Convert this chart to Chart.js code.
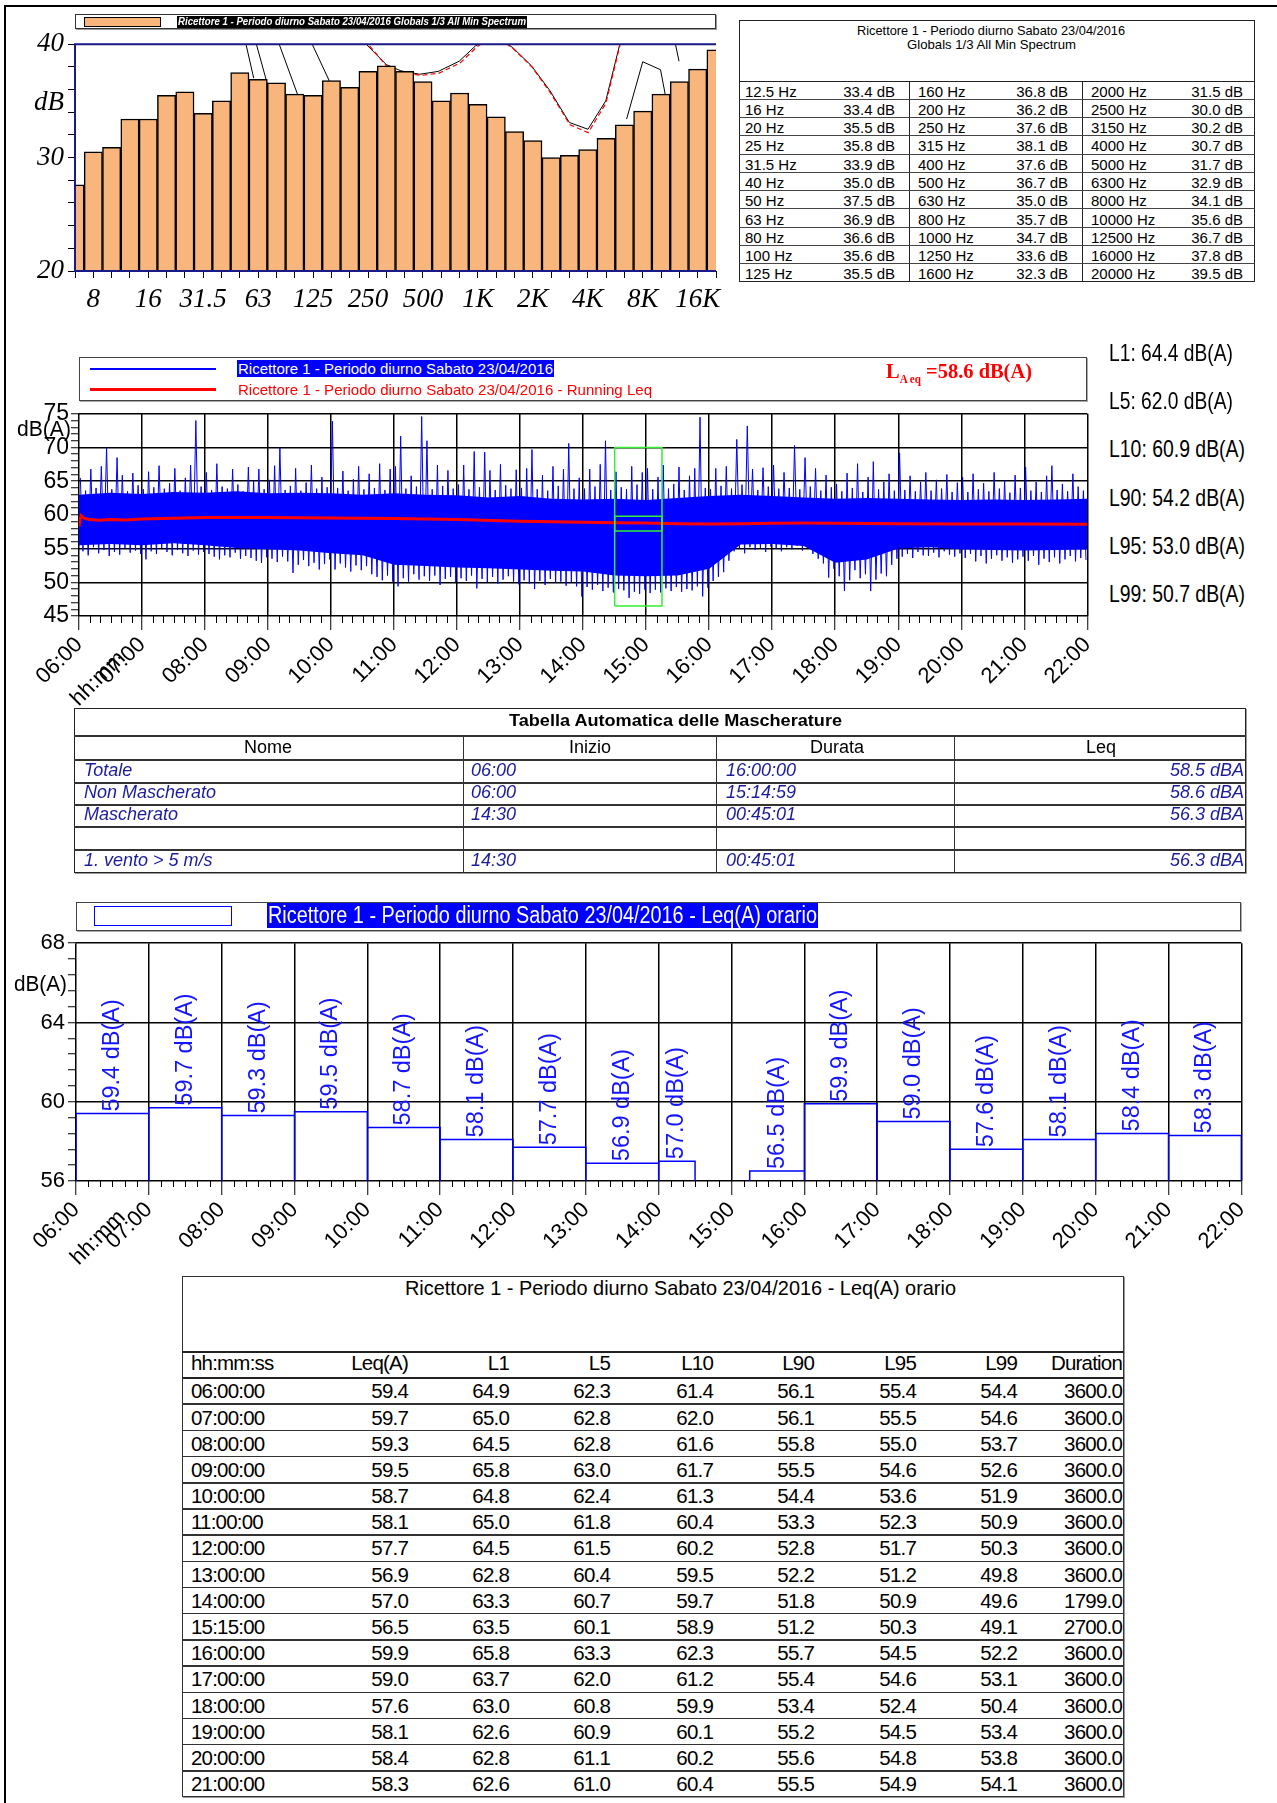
<!DOCTYPE html>
<html><head><meta charset="utf-8">
<script src="https://cdn.jsdelivr.net/npm/chart.js@4.4.1/dist/chart.umd.min.js"></script>
<style>
html,body{margin:0;padding:0;background:#fff;}
#page{position:relative;width:1277px;height:1803px;overflow:hidden;background:#fff;font-family:"Liberation Sans",Arial,sans-serif;}
canvas{position:absolute;}
</style></head>
<body><div id="page">
<canvas id="cSpec" width="730" height="300" style="left:0;top:30px;width:730px;height:300px"></canvas>
<canvas id="cHist" width="1100" height="310" style="left:0;top:405px;width:1100px;height:310px"></canvas>
<canvas id="cHour" width="1260" height="340" style="left:0;top:930px;width:1260px;height:340px"></canvas>
</div>
<script>
// ================= DATA =================
// --- 1/3 octave minimum spectrum ---
const specTitle = 'Ricettore 1 - Periodo diurno Sabato 23/04/2016 Globals 1/3 All Min Spectrum';
const specTableTitle1 = 'Ricettore 1 - Periodo diurno Sabato 23/04/2016';
const specTableTitle2 = 'Globals 1/3 All Min Spectrum';
const specBands = ['6.3','8','10','12.5','16','20','25','31.5','40','50','63','80','100','125','160','200','250','315','400','500','630','800','1000','1250','1600','2000','2500','3150','4000','5000','6300','8000','10000','12500','16000','20000'];
const specLevels = [27.6,30.5,30.9,33.4,33.4,35.5,35.8,33.9,35.0,37.5,36.9,36.6,35.6,35.5,36.8,36.2,37.6,38.1,37.6,36.7,35.0,35.7,34.7,33.6,32.3,31.5,30.0,30.2,30.7,31.7,32.9,34.1,35.6,36.7,37.8,39.5];
const specAxisBands = ['8','16','31.5','63','125','250','500','1000','2000','4000','8000','16000'];
const specAxisLabels = ['8','16','31.5','63','125','250','500','1K','2K','4K','8K','16K'];
const specYLabels = [20,30,40];
// other spectra traces visible (clipped) behind the bars
const traceBlackHz = [53.8,59.7,null,61.0,71.9,null,80.5,108.4,null,122,160.3,null,232,316,380,481,607,790,970,1089,1300,1549,1959,2473,3155,3990,4989,6124,null,6486,7943,9931,10794,null,11912,12534];
const traceBlackDb = [40.2,37.0,null,40.3,36.1,null,40.4,34.7,null,40.3,36.2,null,40.4,38.2,37.65,37.35,37.6,38.5,39.85,40.3,40.5,39.7,38.1,35.9,33.1,32.5,35.0,40.8,null,33.4,38.45,37.75,34.7,null,40.2,38.5];
const traceRedHz = [240,320,385,490,615,800,985,1100,1300,1560,1970,2490,3180,4000,5000,6150];
const traceRedDb = [40.4,38.0,37.5,37.25,37.45,38.35,39.75,40.3,40.5,39.6,38.0,35.7,32.9,32.2,34.8,40.8];

// --- time history ---
const histTitle = 'Ricettore 1 - Periodo diurno Sabato 23/04/2016';
const runTitle = 'Ricettore 1 - Periodo diurno Sabato 23/04/2016 - Running Leq';
const hourTickLabels = ['06:00','07:00','08:00','09:00','10:00','11:00','12:00','13:00','14:00','15:00','16:00','17:00','18:00','19:00','20:00','21:00','22:00'];
const laeqTotal = 58.6;
const statLabels = ['L1','L5','L10','L90','L95','L99'];
const statValues = [64.4,62.0,60.9,54.2,53.0,50.7];
const histBinMin = 5;
const histPeakMax = [
65.5,63.6,66.8,64.0,67.2,70.0,63.8,68.5,65.9,63.5,66.2,64.4,
63.8,66.4,64.1,67.3,63.9,64.7,66.9,63.6,65.5,67.4,74.0,64.2,
66.3,63.7,67.6,64.2,63.9,66.8,64.5,63.5,67.1,65.0,66.8,63.8,
65.2,67.3,70.0,63.7,64.3,66.9,63.6,64.8,67.4,63.9,65.6,64.1,
73.9,64.0,66.5,63.6,65.3,67.2,63.8,66.1,64.0,67.6,63.7,66.8,
67.2,71.7,63.9,65.8,64.2,74.6,71.0,63.8,67.4,64.3,66.6,63.9,
64.5,67.4,63.8,69.4,64.1,69.3,66.6,63.7,67.5,64.4,63.9,66.7,
64.0,66.9,69.7,63.8,65.9,63.6,67.2,64.3,66.8,70.6,63.9,65.5,
63.9,66.8,64.2,67.5,71.0,63.7,66.4,64.1,63.8,67.2,64.5,66.3,
66.9,63.8,65.6,67.4,63.9,64.6,67.1,63.7,65.8,66.9,74.5,64.0,
63.8,66.9,64.3,67.2,63.9,71.2,64.5,73.2,66.8,63.7,67.0,64.2,
67.4,63.9,66.3,64.0,70.3,63.8,68.5,64.2,66.9,63.6,65.9,64.1,
64.6,63.5,66.2,64.0,67.6,63.4,65.6,67.9,63.8,64.9,66.1,63.6,
69.2,63.7,65.8,63.5,64.9,66.3,63.6,65.2,63.9,66.0,63.4,64.8,
65.6,63.4,66.1,63.8,64.7,63.5,66.3,63.9,65.1,63.3,65.9,64.0,
67.1,63.6,64.9,63.4,65.8,67.3,63.7,64.6,63.5,66.1,64.2,63.6];
const histPeakMin = [
54.6,54.0,55.2,54.3,54.8,53.9,54.5,54.1,55.0,54.4,54.7,54.2,
53.4,54.6,54.2,55.1,54.5,54.0,54.8,54.3,53.9,54.7,54.1,54.5,
54.2,53.8,53.4,54.0,53.7,54.4,53.5,53.9,53.6,53.2,52.9,53.7,
53.5,53.0,53.8,53.1,51.4,52.6,53.3,52.4,52.9,51.9,52.7,53.4,
51.9,52.8,52.2,51.6,52.5,51.8,52.4,51.2,50.8,50.3,51.0,50.1,
49.4,50.6,50.1,51.2,50.4,50.9,50.2,51.0,49.6,50.5,50.8,50.0,
50.6,50.2,51.0,49.1,50.5,50.0,50.8,49.8,50.4,50.9,50.1,49.7,
50.3,49.8,49.0,50.2,49.6,50.5,49.9,50.1,49.5,50.0,49.4,47.9,
49.3,48.9,49.6,48.7,49.2,48.5,49.0,48.8,47.7,48.6,48.3,48.9,
48.4,48.9,48.5,49.1,48.7,49.3,48.6,49.0,48.8,49.4,47.9,49.2,
50.2,50.8,51.5,53.2,54.6,55.0,54.3,55.2,54.8,55.1,54.5,55.3,
55.0,54.6,55.2,54.9,55.4,54.7,55.1,54.2,53.5,52.8,50.7,52.0,
50.9,48.7,50.3,51.8,50.6,51.2,48.7,50.4,51.3,50.9,52.6,53.5,
53.8,54.2,53.6,54.5,54.0,53.9,54.4,53.7,54.6,54.1,53.8,54.3,
53.6,54.2,53.1,53.9,52.8,53.5,54.0,53.2,53.7,52.9,53.4,53.8,
53.2,53.9,52.6,53.5,53.0,53.7,52.8,53.4,53.9,53.1,53.6,53.3];
const histBandStep = 30;
const histBandTop = [63.0,63.3,63.1,63.4,63.3,63.5,63.2,63.3,63.2,63.0,63.2,63.0,62.9,62.6,62.8,62.4,62.3,62.4,62.2,62.5,62.8,63.0,62.8,62.6,62.4,62.5,62.4,62.3,62.2,62.3,62.2,62.3,62.4];
const histBandBottom = [55.5,55.7,55.5,55.8,55.5,55.1,54.9,54.7,54.3,54.0,52.6,52.4,52.2,52.1,51.9,51.7,51.6,51.0,50.9,51.0,52.0,55.6,55.7,55.4,52.9,53.4,55.0,55.2,54.9,54.8,54.7,54.8,54.9];
const runClock = ['06:00','06:02','06:05','06:10','06:20','06:30','06:45','07:00','07:30','08:00','09:00','10:00','10:30','11:00','11:30','12:00','13:00','14:00','14:30','15:00','15:30','16:00','16:30','17:00','17:30','18:00','19:00','20:00','21:00','22:00'];
const runLeq = [58.3,59.9,59.5,59.3,59.2,59.3,59.25,59.4,59.5,59.6,59.6,59.55,59.5,59.45,59.4,59.3,59.05,58.9,58.85,58.8,58.7,58.65,58.7,58.75,58.8,58.75,58.7,58.65,58.65,58.6];
const maskOuterDb = [46.5,70.0];
const maskInnerDb = [57.6,59.8];

// --- masking table ---
const maskTableTitle = 'Tabella Automatica delle Mascherature';
const maskHeaders = ['Nome','Inizio','Durata','Leq'];
const maskNames = ['Totale','Non Mascherato','Mascherato','','1. vento > 5 m/s'];
const maskStart = ['06:00','06:00','14:30','','14:30'];
const maskDur = ['16:00:00','15:14:59','00:45:01','','00:45:01'];
const maskLeq = ['58.5 dBA','58.6 dBA','56.3 dBA','','56.3 dBA'];

// --- hourly Leq ---
const hourTitle = 'Ricettore 1 - Periodo diurno Sabato 23/04/2016 - Leq(A) orario';
const hourStart = ['06:00:00','07:00:00','08:00:00','09:00:00','10:00:00','11:00:00','12:00:00','13:00:00','14:00:00','15:15:00','16:00:00','17:00:00','18:00:00','19:00:00','20:00:00','21:00:00'];
const hourLeq = [59.4,59.7,59.3,59.5,58.7,58.1,57.7,56.9,57.0,56.5,59.9,59.0,57.6,58.1,58.4,58.3];
const hourL1  = [64.9,65.0,64.5,65.8,64.8,65.0,64.5,62.8,63.3,63.5,65.8,63.7,63.0,62.6,62.8,62.6];
const hourL5  = [62.3,62.8,62.8,63.0,62.4,61.8,61.5,60.4,60.7,60.1,63.3,62.0,60.8,60.9,61.1,61.0];
const hourL10 = [61.4,62.0,61.6,61.7,61.3,60.4,60.2,59.5,59.7,58.9,62.3,61.2,59.9,60.1,60.2,60.4];
const hourL90 = [56.1,56.1,55.8,55.5,54.4,53.3,52.8,52.2,51.8,51.2,55.7,55.4,53.4,55.2,55.6,55.5];
const hourL95 = [55.4,55.5,55.0,54.6,53.6,52.3,51.7,51.2,50.9,50.3,54.5,54.6,52.4,54.5,54.8,54.9];
const hourL99 = [54.4,54.6,53.7,52.6,51.9,50.9,50.3,49.8,49.6,49.1,52.2,53.1,50.4,53.4,53.8,54.1];
const hourDur = [3600,3600,3600,3600,3600,3600,3600,3600,1799,2700,3600,3600,3600,3600,3600,3600];
const hourTableHeaders = ['hh:mm:ss','Leq(A)','L1','L5','L10','L90','L95','L99','Duration'];

// ================= HELPERS =================
const SANS = '"Liberation Sans", Arial, sans-serif';
const SERIF = '"Liberation Serif", "Times New Roman", serif';
const page = document.getElementById('page');
function box(x,y,w,h,style){const d=document.createElement('div');d.style.cssText=`position:absolute;left:${x}px;top:${y}px;width:${w}px;height:${h}px;box-sizing:border-box;${style||''}`;page.appendChild(d);return d;}
function hline(x1,x2,y,c,t){return box(x1,y-t/2,x2-x1,t,`background:${c}`);}
function vline(x,y1,y2,c,t){return box(x-t/2,y1,t,y2-y1,`background:${c}`);}
function text(str,x,cy,font,color,align,fitW,html,extra){
  const d=document.createElement('div');
  if(html) d.innerHTML=str; else d.textContent=str;
  d.style.cssText=`position:absolute;white-space:nowrap;left:0;top:0;font:${font};color:${color};line-height:1;${extra||''}`;
  page.appendChild(d);
  const r=d.getBoundingClientRect();
  let w=r.width,h=r.height,sx=1;
  if(fitW){sx=fitW/w;w=fitW;}
  const left=align==='r'?x-w:align==='c'?x-w/2:x;
  d.style.left=left+'px';d.style.top=(cy-h/2)+'px';
  if(sx!==1){d.style.transformOrigin='0 50%';d.style.transform=`scaleX(${sx})`;}
  return d;
}
function clockToMin(s){const p=s.split(':').map(Number);return p[0]*60+p[1]+(p[2]||0)/60-360;}
function durToMin(s){const p=s.split(':').map(Number);return p[0]*60+p[1]+(p[2]||0)/60;}
// put the chart's plot area exactly on the wanted page rectangle
function place(chart,want){
  const cv=chart.canvas;let a=chart.chartArea;
  const dw=(want.right-want.left)-(a.right-a.left), dh=(want.bottom-want.top)-(a.bottom-a.top);
  if(Math.abs(dw)>0.3||Math.abs(dh)>0.3){chart.resize(Math.round(chart.width+dw),Math.round(chart.height+dh));a=chart.chartArea;}
  cv.style.left=(want.left-a.left)+'px';cv.style.top=(want.top-a.top)+'px';
}

// page frame
vline(4.5,5,1803,'#000',2);
hline(4,1277,5.5,'#000',2);

// ================= PLUGIN =================
const extras={
  id:'extras',
  afterDraw(chart,args,o){
    const ctx=chart.ctx,a=chart.chartArea;
    if(o.frame){
      ctx.save();ctx.strokeStyle=o.frame.color;ctx.lineWidth=o.frame.width;ctx.beginPath();
      ctx.moveTo(a.right,a.top);ctx.lineTo(a.left,a.top);ctx.lineTo(a.left,a.bottom);ctx.lineTo(a.right,a.bottom);ctx.stroke();ctx.restore();
    }
    if(o.minorX){
      const s=chart.scales.x;ctx.save();ctx.strokeStyle='#000';ctx.lineWidth=1;
      for(let v=s.min;v<=s.max+1e-6;v+=o.minorX.step){
        if(Math.abs(v%o.minorX.major)<1e-6)continue;
        const px=Math.round(s.getPixelForValue(v))+0.5;
        ctx.beginPath();ctx.moveTo(px,a.bottom);ctx.lineTo(px,a.bottom+o.minorX.len);ctx.stroke();
      }
      ctx.restore();
    }
    if(o.note){
      const s=chart.scales.x;ctx.save();
      ctx.translate(s.getPixelForValue(s.min)+o.note.dx,a.bottom+o.note.dy);ctx.rotate(-Math.PI/4);
      ctx.font=o.note.font;ctx.textAlign='right';ctx.textBaseline='middle';ctx.fillStyle='#000';ctx.fillText(o.note.text,0,0);ctx.restore();
    }
    if(o.yNote){
      const s=chart.scales.y;ctx.save();ctx.font=o.yNote.font;ctx.textAlign='right';ctx.textBaseline='middle';ctx.fillStyle='#000';
      ctx.fillText(o.yNote.text,s.right-o.yNote.inset,s.getPixelForValue(o.yNote.value));ctx.restore();
    }
    if(o.barLabels){
      const sx=chart.scales.x,sy=chart.scales.y,L=o.barLabels;ctx.save();
      ctx.font=L.font;ctx.fillStyle=L.color;ctx.textAlign='left';ctx.textBaseline='middle';
      for(let i=0;i<L.xs.length;i++){
        ctx.save();ctx.translate(sx.getPixelForValue(L.xs[i]),sy.getPixelForValue(L.ys[i])-2);ctx.rotate(-Math.PI/2);ctx.fillText(L.texts[i],0,0);ctx.restore();
      }
      ctx.restore();
    }
  }
};

// ================= SPECTRUM =================
box(75,14,641,15,'border:1px solid #333;box-shadow:1px 1px 0 #999');
box(84,17,77,10,'background:#F8B67C;border:1.5px solid #000');
box(177,15.5,350,12.5,'background:#000');
text(specTitle,178,21.8,`italic bold 11px ${SANS}`,'#fff','l',348);

const tracePts=(hz,db)=>hz.map((f,i)=>f===null?{x:hz[i-1],y:null}:{x:f,y:db[i]});

const specChart=new Chart(document.getElementById('cSpec'),{
  type:'bar',
  data:{labels:specBands,datasets:[
    {type:'bar',data:specLevels,base:20,grouped:false,backgroundColor:'#F8B67C',borderColor:'#000',borderWidth:1.5,barPercentage:1,categoryPercentage:1,clip:0,order:0},
    {type:'line',xAxisID:'xf',data:tracePts(traceBlackHz,traceBlackDb),borderColor:'#000',borderWidth:1,pointRadius:0,clip:0,order:2,spanGaps:false},
    {type:'line',xAxisID:'xf',data:tracePts(traceRedHz,traceRedDb),borderColor:'#ff0000',borderWidth:1.2,borderDash:[5,3],pointRadius:0,clip:0,order:1}
  ]},
  options:{
    responsive:false,maintainAspectRatio:false,animation:false,events:[],
    layout:{padding:{left:0,right:14,top:0,bottom:0}},
    plugins:{legend:{display:false},tooltip:{enabled:false},
      extras:{frame:{color:'#1a1a86',width:2},yNote:{text:'dB',value:34.8,inset:11,font:`italic 27px ${SERIF}`}}},
    scales:{
      x:{type:'category',offset:false,border:{display:false},
        grid:{drawOnChartArea:false,offset:false,tickLength:7,tickColor:'#000',color:'#000'},
        ticks:{autoSkip:false,maxRotation:0,minRotation:0,padding:6,color:'#000',font:{family:SERIF,style:'italic',size:27},
          callback:function(v,i){const j=specAxisBands.indexOf(specBands[i]);return j>=0?specAxisLabels[j]:'';}},
        afterFit:s=>{s.height=59;}},
      xf:{type:'logarithmic',display:false,min:6.3096,max:19952.6},
      y:{min:20,max:40,border:{display:false},
        grid:{drawOnChartArea:false,tickLength:7,tickColor:'#000',color:'#000'},
        ticks:{stepSize:2,autoSkip:false,padding:4,color:'#000',font:{family:SERIF,style:'italic',size:27},
          callback:v=>specYLabels.includes(v)?String(v):''},
        afterFit:s=>{s.width=75;}}
    }
  },
  plugins:[extras]
});
place(specChart,{left:75,top:44,right:716,bottom:271});

// spectrum table
box(739,20,516,262,'border:1px solid #222');
text(specTableTitle1,991,30,`13px ${SANS}`,'#000','c',268);
text(specTableTitle2,991,44,`13px ${SANS}`,'#000','c',169);
hline(739,1255,81,'#222',1);
vline(909,81,282,'#222',1);vline(1082,81,282,'#222',1);
{
  const rowH=(282-81)/11, fl=[745,918,1091], dr=[895,1068,1243];
  for(let g=0;g<3;g++)for(let r=0;r<11;r++){
    const k=3+g*11+r, cy=81+rowH*(r+0.5)+1;
    text(specBands[k]+' Hz',fl[g],cy,`15px ${SANS}`,'#000','l');
    text(specLevels[k].toFixed(1)+' dB',dr[g],cy,`15px ${SANS}`,'#000','r');
  }
  for(let r=1;r<11;r++) hline(739,1255,81+rowH*r,'#444',1);
}

// ================= TIME HISTORY =================
box(79,357,1008,44,'border:1.5px solid #444;box-shadow:1px 1px 0 #aaa');
hline(90,216,369,'#0000FF',1.3);
hline(90,216,389.5,'#FF0000',2.5);
box(237,360,317,17,'background:#0000FF');
text(histTitle,238,368.5,`15px ${SANS}`,'#fff','l',315);
text(runTitle,238,389.5,`15px ${SANS}`,'#FF0000','l',414);
text(`L<span style="font-size:12px;vertical-align:-5px">A eq</span> =${laeqTotal.toFixed(1)} dB(A)`,886,372,`bold 22px ${SERIF}`,'#FF0000','l',146,true);
statLabels.forEach((l,i)=>{
  text(`${l}: ${statValues[i].toFixed(1)} dB(A)`,1109,353+i*48.2,`24px ${SANS}`,'#000','l',l.length<3?124:136);
});
text('dB(A)',17,429,`22px ${SANS}`,'#000','l',54);

const needlePts=[];
histPeakMax.forEach((mx,k)=>{needlePts.push({x:k*histBinMin+1.25,y:mx});needlePts.push({x:k*histBinMin+3.75,y:histPeakMin[k]});});
const bandTopPts=histBandTop.map((v,i)=>({x:i*histBandStep,y:v}));
const bandBotPts=histBandBottom.map((v,i)=>({x:i*histBandStep,y:v}));
const runPts=runClock.map((c,i)=>({x:clockToMin(c),y:runLeq[i]}));
const mIdx=maskNames.indexOf('Mascherato');
const mS=clockToMin(maskStart[mIdx]), mE=mS+durToMin(maskDur[mIdx]);
const rectPts=(lo,hi)=>[{x:mS,y:lo},{x:mS,y:hi},{x:mE,y:hi},{x:mE,y:lo},{x:mS,y:lo}];

const timeX=(h)=>({type:'linear',min:0,max:960,z:1,border:{display:false},
  grid:{color:'#000',lineWidth:1.5,tickLength:14,tickColor:'#000',tickWidth:1},
  ticks:{stepSize:60,autoSkip:false,maxRotation:45,minRotation:45,padding:2,color:'#000',font:{family:SANS,size:22},
    callback:v=>hourTickLabels[Math.round(v/60)]},
  afterFit:s=>{s.height=h;}});

const histChart=new Chart(document.getElementById('cHist'),{
  type:'line',
  data:{datasets:[
    {data:bandTopPts,borderWidth:0,pointRadius:0,fill:'+1',backgroundColor:'#0000FF',borderColor:'#0000FF',order:5},
    {data:bandBotPts,borderWidth:0,pointRadius:0,fill:false,borderColor:'#0000FF',order:6},
    {data:needlePts,borderColor:'#0000FF',borderWidth:1,pointRadius:0,fill:false,order:4},
    {data:runPts,borderColor:'#FF0000',borderWidth:3,pointRadius:0,fill:false,order:2},
    {data:rectPts(maskOuterDb[0],maskOuterDb[1]),borderColor:'#33ee33',borderWidth:1.5,pointRadius:0,fill:false,order:1},
    {data:rectPts(maskInnerDb[0],maskInnerDb[1]),borderColor:'#33ee33',borderWidth:1.5,pointRadius:0,fill:false,order:1}
  ]},
  options:{
    responsive:false,maintainAspectRatio:false,animation:false,events:[],
    layout:{padding:{left:0,right:13,top:0,bottom:0}},
    plugins:{legend:{display:false},tooltip:{enabled:false},
      extras:{minorX:{step:10,major:60,len:7},note:{text:'hh:mm',dx:43,dy:39,font:`22px ${SANS}`}}},
    scales:{
      x:timeX(99),
      y:{min:45,max:75,z:1,border:{display:false},
        grid:{color:c=>c.tick.value%5===0?'#000':'rgba(0,0,0,0)',lineWidth:1.5,tickLength:8,tickColor:'#000',tickWidth:1},
        ticks:{stepSize:1,autoSkip:false,padding:2,color:'#000',font:{family:SANS,size:23},callback:v=>v%5===0?String(v):''},
        afterFit:s=>{s.width=79;}}
    }
  },
  plugins:[extras]
});
place(histChart,{left:79,top:414,right:1087,bottom:616});

// ================= MASK TABLE =================
box(74,708,1172,165,'border:1px solid #222;box-shadow:1px 1px 0 #999');
text(maskTableTitle,509,720.5,`bold 16px ${SANS}`,'#000','l',333);
[736,760,783,805,827,850].forEach(y=>hline(74,1246,y,'#333',1.5));
[463,716,954].forEach(x=>vline(x,736,873,'#333',1));
[268,590,837,1101].forEach((x,i)=>text(maskHeaders[i],x,746.5,`18px ${SANS}`,'#000','c'));
{
  const ys=[769.5,792,814,837,860], f=`italic 18px ${SANS}`, c='#1c1c9a';
  maskNames.forEach((n,i)=>{
    if(n)text(n,84,ys[i],f,c,'l');
    if(maskStart[i])text(maskStart[i],471,ys[i],f,c,'l');
    if(maskDur[i])text(maskDur[i],726,ys[i],f,c,'l');
    if(maskLeq[i])text(maskLeq[i],1244,ys[i],f,c,'r');
  });
}

// ================= HOURLY LEQ =================
box(76,902,1165,29,'border:1.5px solid #444;box-shadow:1px 1px 0 #aaa');
box(94,906,138,20,'border:1.5px solid #0000FF');
box(267,903,551,25,'background:#0000FF');
text(hourTitle,268,915.5,`23px ${SANS}`,'#fff','l',549);
text('dB(A)',14,984,`22px ${SANS}`,'#000','l',53);

const hourAxisMin=56, hourAxisMax=68;
const hourPts=[], lblX=[], lblY=[], lblT=[];
hourStart.forEach((c,i)=>{
  const s=clockToMin(c), e=s+hourDur[i]/60, v=hourLeq[i];
  hourPts.push({x:s,y:hourAxisMin},{x:s,y:v},{x:e,y:v},{x:e,y:hourAxisMin},{x:e,y:null});
  lblX.push((s+e)/2);lblY.push(v);lblT.push(v.toFixed(1)+' dB(A)');
});
const isMajorHour=v=>Math.abs((v-hourAxisMin)/4-Math.round((v-hourAxisMin)/4))<1e-6;

const hourChart=new Chart(document.getElementById('cHour'),{
  type:'line',
  data:{datasets:[{data:hourPts,borderColor:'#0000FF',borderWidth:1.5,pointRadius:0,fill:false,spanGaps:false}]},
  options:{
    responsive:false,maintainAspectRatio:false,animation:false,events:[],
    layout:{padding:{left:0,right:19,top:0,bottom:0}},
    plugins:{legend:{display:false},tooltip:{enabled:false},
      extras:{minorX:{step:10,major:60,len:6},note:{text:'hh:mm',dx:46,dy:33,font:`22px ${SANS}`},
        barLabels:{xs:lblX,ys:lblY,texts:lblT,font:`23.5px ${SANS}`,color:'#1414ff'}}},
    scales:{
      x:timeX(89),
      y:{min:hourAxisMin,max:hourAxisMax,z:1,border:{display:false},
        grid:{color:c=>isMajorHour(c.tick.value)?'#000':'rgba(0,0,0,0)',lineWidth:1.5,tickLength:8,tickColor:'#000',tickWidth:1},
        ticks:{stepSize:0.8,autoSkip:false,padding:3,color:'#000',font:{family:SANS,size:22},callback:v=>isMajorHour(v)?String(Math.round(v)):''},
        afterFit:s=>{s.width=76;}}
    }
  },
  plugins:[extras]
});
place(hourChart,{left:76,top:943,right:1241,bottom:1181});

// ================= HOURLY TABLE =================
box(182,1276,942,521,'border:1.5px solid #333;box-shadow:1px 1px 0 #999');
text(hourTitle,405,1287,`21px ${SANS}`,'#000','l',551);
hline(182,1124,1352,'#222',1.5);
hline(182,1124,1378,'#222',1.5);
{
  const rowH=(1797-1378)/16, rights=[408,509,610,713,814,916,1017,1122];
  const f=`20.5px ${SANS}`, ls='letter-spacing:-0.8px;';
  text(hourTableHeaders[0],191,1363,f,'#000','l',null,false,ls);
  for(let j=1;j<hourTableHeaders.length;j++) text(hourTableHeaders[j],rights[j-1],1363,f,'#000','r',null,false,ls);
  const cols=[hourLeq,hourL1,hourL5,hourL10,hourL90,hourL95,hourL99];
  hourStart.forEach((c,i)=>{
    const cy=1378+rowH*(i+0.5)+0.5;
    text(c,191,cy,f,'#000','l',null,false,ls);
    cols.forEach((arr,j)=>text(arr[i].toFixed(1),rights[j],cy,f,'#000','r',null,false,ls));
    text(hourDur[i].toFixed(1),rights[7],cy,f,'#000','r',null,false,ls);
    if(i<15) hline(182,1124,1378+rowH*(i+1),'#333',1.5);
  });
}
</script>
</body></html>
